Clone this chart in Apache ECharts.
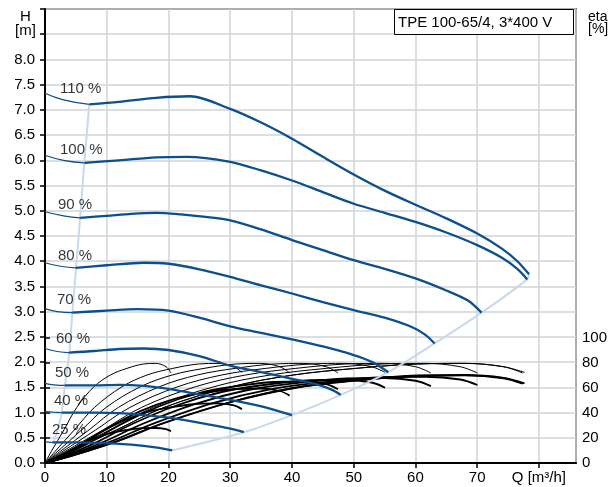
<!DOCTYPE html>
<html><head><meta charset="utf-8">
<script src="https://cdn.jsdelivr.net/npm/echarts@6/dist/echarts.min.js"></script>
<style>html,body{margin:0;padding:0;background:#fff}#c{width:610px;height:487px}</style>
</head><body><div id="c"></div>
<script>
// ---- data ----
const speedLabels = ['110 %','100 %','90 %','80 %','70 %','60 %','50 %','40 %','25 %'];
// pump curves: thin part (0 .. min-speed line) and thick part
const hThinQ = [[0,3,7.2],[0,3,6.4],[0,3,5.7],[0,2.5,5.0],[0,2,4.4],[0,2,3.9],[0,1.5,3.2],[0,1.3,2.7],[0,1.2]];
const hThinH = [[7.33,7.2,7.11],[6.10,6.0,5.95],[4.98,4.90,4.86],[3.97,3.90,3.87],[3.06,3.0,2.98],[2.27,2.21,2.19],[1.58,1.55,1.54],[1.02,1.01,1.0],[0.42,0.41]];
const hQ = [
  [7.2,12,18,23.5,30,35,40,45,50,55,60,65,70,74,76.5,78.4],
  [6.4,12,18,23,30,35,40,45,50,55,60,65,70,74,76.5,78.1],
  [5.7,10,14,18,22,26,30,35,40,45,50,55,60,65,68.5,70.7],
  [5.0,10,16,20,25,30,35,40,45,50,55,59.3,61.5,63.1],
  [4.4,10,15,20,25,30,35,40,45,50,53,55.6],
  [3.9,8,12,16,20,25,30,35,40,44,46.5,47.9],
  [3.2,8,12,16,20,24,30,34,37,40],
  [2.7,8,12,16,20,24,28,30,32.2],
  [1.2,5,8,12,16,18.5,20.6]
];
const hH = [
  [7.11,7.16,7.24,7.27,7.02,6.75,6.43,6.07,5.72,5.40,5.12,4.85,4.55,4.25,4.0,3.74],
  [5.95,6.0,6.06,6.07,5.97,5.80,5.60,5.37,5.14,4.96,4.78,4.57,4.32,4.07,3.85,3.64],
  [4.86,4.90,4.94,4.96,4.93,4.88,4.81,4.63,4.42,4.22,4.02,3.85,3.66,3.42,3.22,2.98],
  [3.87,3.92,3.97,3.95,3.84,3.69,3.52,3.36,3.19,3.03,2.88,2.70,2.55,2.37],
  [2.98,3.02,3.05,3.02,2.88,2.71,2.58,2.45,2.31,2.14,2.0,1.80],
  [2.19,2.22,2.26,2.27,2.24,2.12,1.93,1.80,1.67,1.56,1.45,1.35],
  [1.54,1.54,1.55,1.53,1.47,1.38,1.25,1.15,1.06,0.95],
  [1.0,1.0,0.99,0.95,0.90,0.82,0.73,0.68,0.61],
  [0.41,0.41,0.40,0.38,0.34,0.30,0.25]
];
// min-speed boundary and max-flow boundary lines
const minLineQ = [7.18,6.37,5.68,5.03,4.43,3.94,3.24,2.71,1.9,1.3];
const minLineH = [7.11,5.95,4.86,3.87,2.98,2.19,1.54,1.0,0.59,0.41];
const maxLineQ = [20.6,32.2,40,47.9,55.6,63.1,70.7,78.1,78.4];
const maxLineH = [0.25,0.61,0.95,1.35,1.80,2.37,2.98,3.64,3.74];
// efficiency curves (eta %, right axis)
const etaQ = [
  [0,3.9,11.7,19.5,30.5,40.6,50.8,60.9,68.7,75.0,78.4],
  [0,3.9,11.7,19.5,30.5,40.6,50.8,60.9,68.7,75.0,78.1],
  [0,3.5,10.6,17.7,27.6,36.8,46.0,55.1,62.2,67.9,70.7],
  [0,3.2,9.5,15.8,24.6,32.8,41.0,49.2,55.5,60.6,63.1],
  [0,2.8,8.3,13.9,21.7,28.9,36.1,43.4,48.9,53.4,55.6],
  [0,2.4,7.2,12.0,18.7,24.9,31.1,37.4,42.2,46.0,47.9],
  [0,2.0,6.0,10.0,15.6,20.8,26.0,31.2,35.2,38.4,40.0],
  [0,1.6,4.8,8.1,12.6,16.7,20.9,25.1,28.3,30.9,32.2],
  [0,1.0,3.1,5.2,8.0,10.7,13.4,16.1,18.1,19.8,20.6]
];
const etaPump = [
  [0,9,26.5,44.5,61,70.4,75.7,79.2,79.7,77,72.5],
  [0,9,26.5,44.5,61,70.4,75.7,79.2,79.7,77,72],
  [0,9,26.5,44.5,61,70.4,75.7,79.2,79.7,77,72],
  [0,9,26.5,44.5,61,70.4,75.7,79.2,79.7,77,72],
  [0,9,26.5,44.5,61,70.4,75.7,79.2,79.7,77,72.5],
  [0,9,26.5,44.5,61,70.4,75.7,79.2,79.7,77,72],
  [0,9,26.5,44.5,61,70.4,75.7,79.2,79.7,77,72],
  [0,9,26.5,44.5,61,70.4,75.7,79.2,79.7,77,72.5],
  [0,9,26.5,44.5,61,70.4,75.7,79.2,79.7,77,72]
];
const etaTotal = [
  [0,5.0,17.3,32.2,49.0,60.1,66.2,70.0,70.4,68.1,63.7],
  [0,5.0,17.2,32.0,48.8,59.8,65.9,69.7,70.1,67.8,63.4],
  [0,4.9,16.9,31.5,48.1,58.9,64.9,68.7,69.0,66.8,62.4],
  [0,4.8,16.7,31.0,47.3,58.0,63.9,67.6,68.0,65.8,61.5],
  [0,4.7,16.3,30.4,46.4,56.8,62.6,66.2,66.6,64.4,60.2],
  [0,4.6,16.0,29.8,45.4,55.6,61.3,64.8,65.2,63.1,59.0],
  [0,4.2,14.6,27.2,41.5,50.8,56.0,59.2,59.6,57.6,53.9],
  [0,3.4,11.7,21.8,33.2,40.7,44.8,47.4,47.7,46.1,43.1],
  [0,2.0,6.9,12.8,19.5,23.9,26.4,27.9,28.0,27.1,25.4]
];
const xTicks = [0,10,20,30,40,50,60,70,80];
const xUnitLabel = 'Q [m³/h]';
const titleText = 'TPE 100-65/4, 3*400 V';

// ---- chart ----
const FONT = 'Liberation Sans, Arial, Helvetica, sans-serif';
const BLUE = '#0c4f8c';
const LIGHT = '#c9d9ea';
const labelOffsetY = [-4,-5,-7,-7,-9,-10,-10,-11,-12];
const labelOffsetX = [10,10,8,8,7,6,5,4,2];
const zip = (a,b) => a.map((v,i)=>[v,b[i]]);
const series = [];
etaQ.forEach((q,i)=>{
  series.push({type:'line',xAxisIndex:1,yAxisIndex:1,data:zip(q,etaPump[i]),smooth:0.35,symbol:'none',lineStyle:{color:'#000',width:1},z:2,silent:true});
  series.push({type:'line',xAxisIndex:1,yAxisIndex:1,data:zip(q,etaTotal[i]),smooth:0.35,symbol:'none',lineStyle:{color:'#000',width:1.8},z:2,silent:true});
});
series.push({type:'line',data:zip(minLineQ,minLineH),smooth:0.3,symbol:'none',lineStyle:{color:LIGHT,width:2},z:3});
series.push({type:'line',data:zip(maxLineQ,maxLineH),smooth:0.3,symbol:'none',lineStyle:{color:LIGHT,width:2},z:3});
hQ.forEach((q,i)=>{
  series.push({type:'line',data:zip(hThinQ[i],hThinH[i]),smooth:0.5,symbol:'none',lineStyle:{color:BLUE,width:1.2},z:4});
  series.push({type:'line',data:zip(q,hH[i]),smooth:0.3,symbol:'none',lineStyle:{color:BLUE,width:2.3},z:4});
});
series.push({type:'scatter',symbolSize:0,z:5,
  data: speedLabels.map((t,i)=>({value:[0,hThinH[i][0]],name:t,
     label:{offset:[labelOffsetX[i],labelOffsetY[i]]}})),
  label:{show:true,position:'right',formatter:p=>p.name,color:'#000',fontSize:15,fontFamily:FONT}});

const chart = echarts.init(document.getElementById('c'),null,{renderer:'canvas'});
chart.setOption({
  animation:false,
  backgroundColor:'#fff',
  title:{text:titleText,left:394,top:9,padding:[6,21,5,4],borderColor:'#000',borderWidth:1,backgroundColor:'#fff',
    textStyle:{fontSize:15,fontWeight:'normal',color:'#000',fontFamily:FONT}},
  graphic:[
    {type:'text',left:15,top:9,style:{text:'H\n[m]',font:'15px '+FONT,fill:'#000',lineHeight:14,textAlign:'center'},z:10},
    {type:'text',left:588,top:10,style:{text:'eta\n[%]',font:'14px '+FONT,fill:'#000',lineHeight:12},z:10}
  ],
  grid:[
    {left:45,right:34,top:9,bottom:24,show:true,borderColor:'#000',borderWidth:1.5,backgroundColor:'transparent'},
    {left:45,right:34,top:338,bottom:24}
  ],
  xAxis:[
    {type:'value',min:0,max:86,interval:10,gridIndex:0,
     axisLine:{lineStyle:{color:'#000',width:2}},
     axisTick:{show:true,length:5,lineStyle:{color:'#000',width:1.5}},
     axisLabel:{color:'#000',fontSize:15,fontFamily:FONT,margin:7,showMaxLabel:false,
       formatter:v=> v===80 ? xUnitLabel : (xTicks.indexOf(v)>=0 ? String(v) : '')},
     splitLine:{show:true,lineStyle:{color:'#d0d4d8',width:1.5}}},
    {type:'value',min:0,max:86,gridIndex:1,show:false}
  ],
  yAxis:[
    {type:'value',min:0,max:9,interval:0.5,gridIndex:0,
     axisLine:{show:true,lineStyle:{color:'#000',width:2}},
     axisTick:{show:true,length:5,lineStyle:{color:'#000',width:1.5}},
     axisLabel:{color:'#000',fontSize:15,fontFamily:FONT,margin:10,formatter:v=> v>8.01 ? '' : v.toFixed(1)},
     splitLine:{show:true,lineStyle:{color:'#d0d4d8',width:1.5}}},
    {type:'value',min:0,max:100,interval:20,gridIndex:1,position:'right',
     axisLine:{show:true,lineStyle:{color:'#000',width:2}},
     axisTick:{show:true,length:5,lineStyle:{color:'#000',width:1.5}},
     axisLabel:{color:'#000',fontSize:15,fontFamily:FONT,margin:11},
     splitLine:{show:false}}
  ],
  series:series
});
</script></body></html>
